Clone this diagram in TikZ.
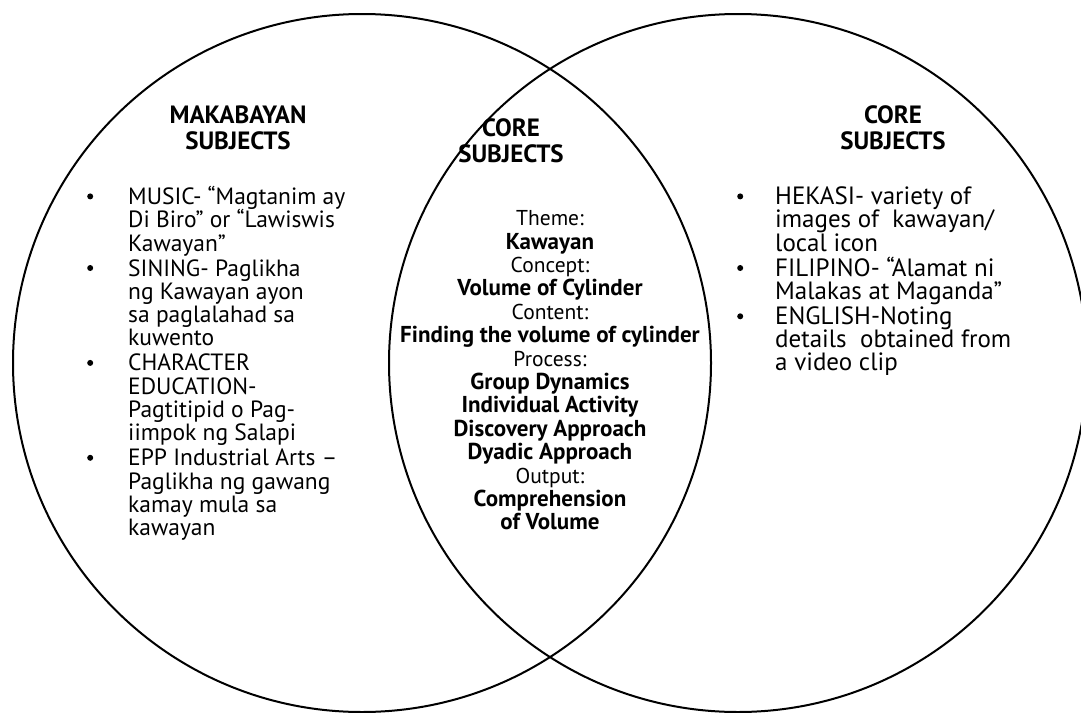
\documentclass[tikz,border=0pt]{standalone}
\usepackage{fontspec}
\setmainfont{PT Sans}
\tikzset{
  ring/.style={circle, draw=black, line width=2pt, minimum size=698pt, inner sep=0pt},
  head/.style={align=center, font=\fontsize{25}{26}\selectfont\bfseries, inner sep=0pt},
  listbox/.style={anchor=base west, inner sep=0pt},
  midbox/.style={anchor=base, inner sep=0pt}
}
\newcommand{\bul}{\raisebox{5pt}{\tikz\fill (0,0) circle (3pt);}}
\newcommand{\lb}[1]{\leavevmode\llap{\bul\hspace{#1}}}
\newcommand{\bt}[1]{{\fontsize{23}{23.4}\selectfont\bfseries #1}}
\newcommand{\gap}{\vspace{1.7pt}}
\newcommand{\lines}[3]{\vtop{\hsize=#2\parindent=0pt\parskip=0pt\fontsize{#1}{23.3}\selectfont
  \lineskiplimit=-60pt\lineskip=0pt #3}}
\begin{document}
\begin{tikzpicture}[x=1pt,y=-1pt]
\useasboundingbox (0,0) rectangle (1081,712);
\node[ring] (L) at (362,363) {};
\node[ring] (R) at (738,363) {};
\node[head] (hl) at (238,128) {MAKABAYAN\\SUBJECTS};
\node[head] (hm) at (511,141) {CORE\\SUBJECTS};
\node[head] (hr) at (893,128) {CORE\\SUBJECTS};
\node[listbox] (ll) at (128,204.4) {\lines{23.5}{260pt}{\raggedright
\lb{35pt}MUSIC- “Magtanim ay\par
Di Biro” or “Lawiswis\par
Kawayan”\par\gap
\lb{35pt}SINING- Paglikha\par
ng Kawayan ayon\par
sa paglalahad sa\par
kuwento\par\gap
\lb{35pt}CHARACTER\par
EDUCATION-\par
Pagtitipid o Pag-\par
iimpok ng Salapi\par\gap
\lb{35pt}EPP Industrial Arts –\par
Paglikha ng gawang\par
kamay mula sa\par
kawayan\par}};
\node[listbox] (rl) at (775,204.4) {\lines{25}{300pt}{\raggedright
\lb{32pt}HEKASI- variety of\par
images of~ kawayan/\par
local icon\par\gap
\lb{32pt}FILIPINO- “Alamat ni\par
Malakas at Maganda”\par\gap
\lb{32pt}ENGLISH-Noting\par
details~ obtained from\par
a video clip\par}};
\node[midbox] (mid) at (550,225.7) {\vtop{\hsize=340pt\parindent=0pt\parskip=0pt
\fontsize{21.5}{23.4}\selectfont\lineskiplimit=-60pt\lineskip=0pt\centering
Theme:\par
\bt{Kawayan}\par
Concept:\par
\bt{Volume of Cylinder}\par
Content:\par
\bt{Finding the volume of cylinder}\par
Process:\par
\bt{Group Dynamics}\par
\bt{Individual Activity}\par
\bt{Discovery Approach}\par
\bt{Dyadic Approach}\par
Output:\par
\bt{Comprehension}\par
\bt{of Volume}\par}};
\end{tikzpicture}
\end{document}
